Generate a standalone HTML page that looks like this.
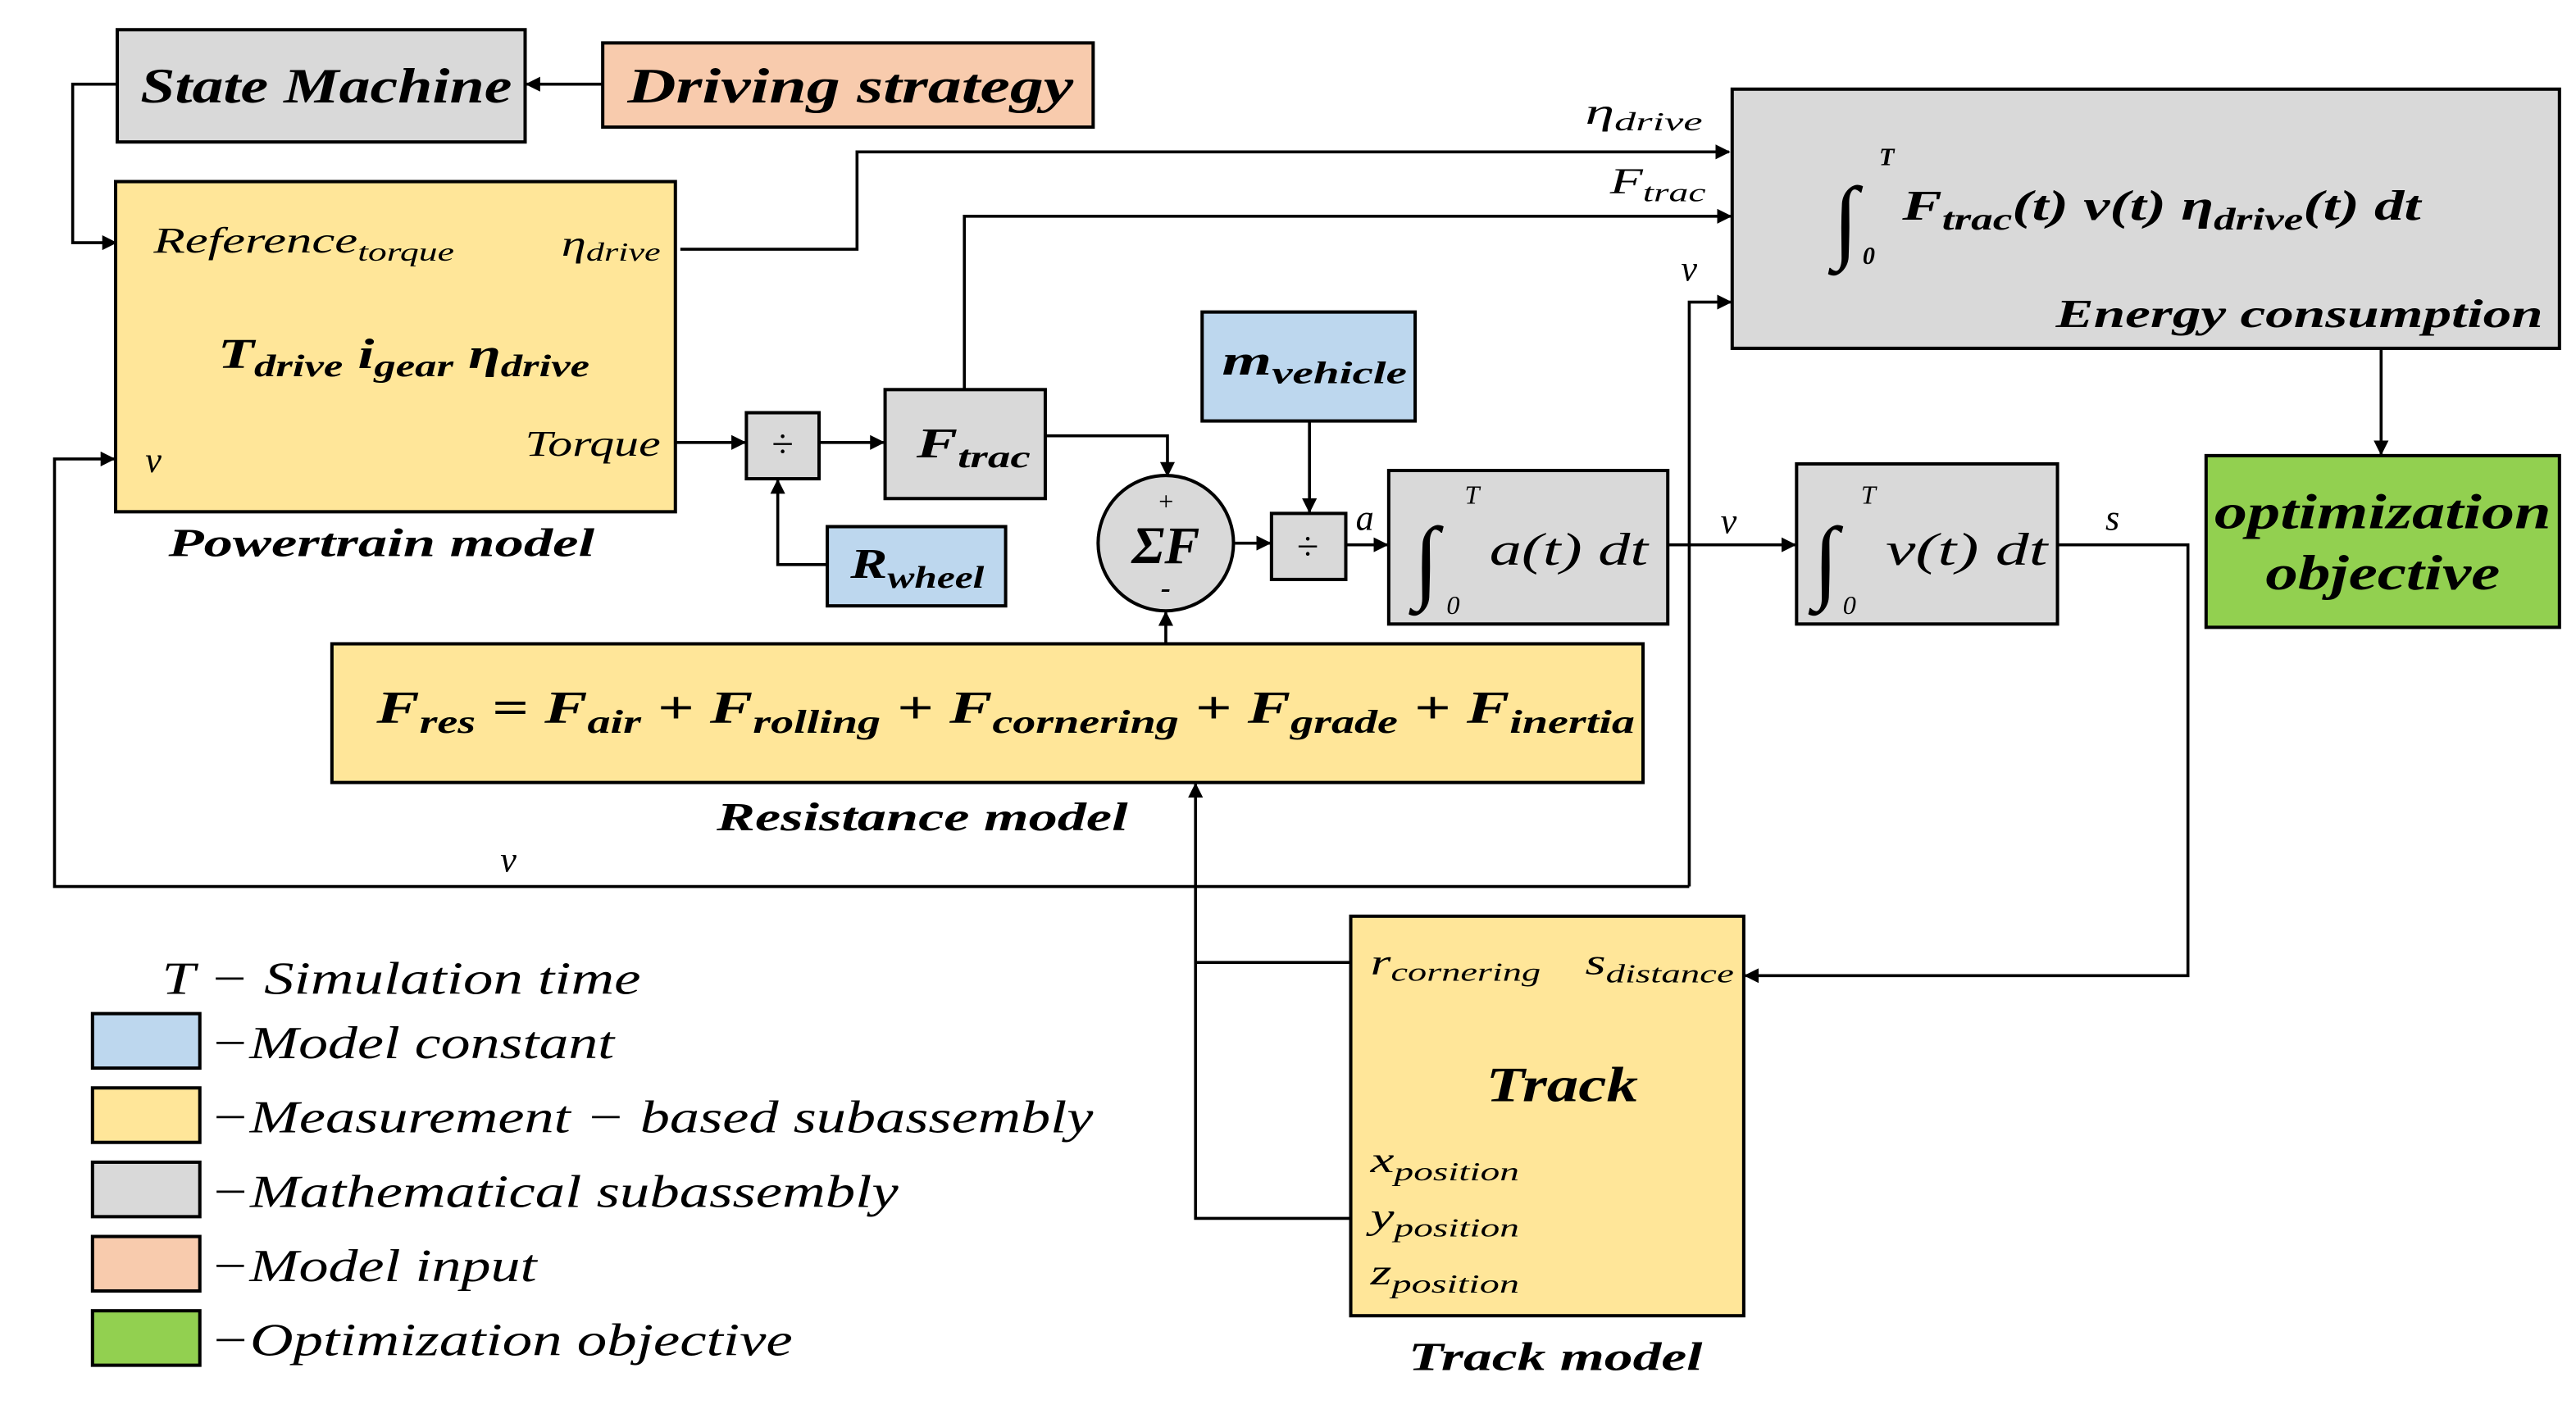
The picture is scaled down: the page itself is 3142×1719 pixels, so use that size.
<!DOCTYPE html>
<html><head><meta charset="utf-8"><style>
html,body{margin:0;padding:0;background:#fff}
svg{display:block}
text{font-family:"Liberation Serif",serif;font-style:italic;fill:#000}
.b{font-weight:bold}
</style></head><body>
<svg width="3142" height="1719" viewBox="0 0 1560 853.5" xmlns="http://www.w3.org/2000/svg">
<defs><marker id="a" viewBox="0 0 10 10" refX="9" refY="5" markerWidth="5" markerHeight="5" orient="auto"><path d="M0,0 L10,5 L0,10 z" fill="#000"/></marker></defs>
<g stroke="#000" stroke-width="2">
<rect x="71" y="18" width="247" height="68" fill="#d9d9d9"/>
<rect x="365" y="26" width="297" height="51" fill="#f8cbad"/>
<rect x="70" y="110" width="339" height="200" fill="#ffe699"/>
<rect x="452" y="250" width="44" height="40" fill="#d9d9d9"/>
<rect x="536" y="236" width="97" height="66" fill="#d9d9d9"/>
<rect x="501" y="319" width="108" height="48" fill="#bdd7ee"/>
<ellipse cx="706" cy="329" rx="41" ry="41" fill="#d9d9d9"/>
<rect x="770" y="311" width="45" height="40" fill="#d9d9d9"/>
<rect x="728" y="189" width="129" height="66" fill="#bdd7ee"/>
<rect x="841" y="285" width="169" height="93" fill="#d9d9d9"/>
<rect x="1088" y="281" width="158" height="97" fill="#d9d9d9"/>
<rect x="1049" y="54" width="501" height="157" fill="#d9d9d9"/>
<rect x="1336" y="276" width="214" height="104" fill="#92d050"/>
<rect x="201" y="390" width="794" height="84" fill="#ffe699"/>
<rect x="818" y="555" width="238" height="242" fill="#ffe699"/>
<rect x="56" y="614" width="65" height="33" fill="#bdd7ee"/>
<rect x="56" y="659" width="65" height="33" fill="#ffe699"/>
<rect x="56" y="704" width="65" height="33" fill="#d9d9d9"/>
<rect x="56" y="749" width="65" height="33" fill="#f8cbad"/>
<rect x="56" y="794" width="65" height="33" fill="#92d050"/>
</g>
<g stroke="#000" stroke-width="1.8" fill="none" marker-end="url(#a)">
<path d="M365,51 H319"/>
<path d="M71,51 H44 V147 H70"/>
<path d="M412,151 H519 V92 H1047"/>
<path d="M584,236 V131 H1048"/>
<path d="M1023,537 V183 H1048"/>
<path d="M1023,537 H33 V278 H69"/>
<path d="M409,268 H451"/>
<path d="M496,268 H535"/>
<path d="M501,342 H471 V291"/>
<path d="M633,264 H707 V288"/>
<path d="M748,329 H769"/>
<path d="M793,255 V310"/>
<path d="M815,330 H840"/>
<path d="M1010,330 H1087"/>
<path d="M1246,330 H1325 V591 H1057"/>
<path d="M1442,211 V275"/>
<path d="M706,390 V371"/>
<path d="M818,738 H724 V475"/>
</g>
<path d="M818,583 H724" stroke="#000" stroke-width="1.8"/>
<g font-size="30" class="b">
<text x="85" y="62" textLength="225" lengthAdjust="spacingAndGlyphs" class="b">State Machine</text>
<text x="380" y="62" textLength="270" lengthAdjust="spacingAndGlyphs" class="b">Driving strategy</text>
</g>
<g font-size="22">
<text x="93" y="153" textLength="182" lengthAdjust="spacingAndGlyphs">Reference<tspan font-size="16" dy="5">torque</tspan></text>
<text x="340" y="155" textLength="60" lengthAdjust="spacingAndGlyphs">η<tspan font-size="16" dy="3">drive</tspan></text>
<text x="318" y="276" textLength="82" lengthAdjust="spacingAndGlyphs">Torque</text>
<text x="88" y="286">v</text>
<text x="960" y="75" textLength="71" lengthAdjust="spacingAndGlyphs">η<tspan font-size="16" dy="4">drive</tspan></text>
<text x="975" y="117" textLength="58" lengthAdjust="spacingAndGlyphs">F<tspan font-size="16" dy="5">trac</tspan></text>
<text x="1018" y="170">v</text>
<text x="303" y="528">v</text>
<text x="821" y="321">a</text>
<text x="1042" y="323">v</text>
<text x="1275" y="321">s</text>
<text x="830" y="590" textLength="103" lengthAdjust="spacingAndGlyphs">r<tspan font-size="16" dy="4">cornering</tspan></text>
<text x="960" y="590" textLength="90" lengthAdjust="spacingAndGlyphs">s<tspan font-size="16" dy="5">distance</tspan></text>
<text x="830" y="710" textLength="90" lengthAdjust="spacingAndGlyphs">x<tspan font-size="16" dy="5">position</tspan></text>
<text x="830" y="744" textLength="90" lengthAdjust="spacingAndGlyphs">y<tspan font-size="16" dy="5">position</tspan></text>
<text x="830" y="778" textLength="90" lengthAdjust="spacingAndGlyphs">z<tspan font-size="16" dy="5">position</tspan></text>
</g>
<g font-size="26" class="b">
<text x="132" y="223" textLength="225" lengthAdjust="spacingAndGlyphs" class="b">T<tspan font-size="19" dy="5">drive</tspan><tspan dy="-5"> i</tspan><tspan font-size="19" dy="5">gear</tspan><tspan dy="-5"> η</tspan><tspan font-size="19" dy="5">drive</tspan></text>
<text x="555" y="277" textLength="69" lengthAdjust="spacingAndGlyphs" class="b">F<tspan font-size="19" dy="6">trac</tspan></text>
<text x="515" y="350" textLength="81" lengthAdjust="spacingAndGlyphs" class="b">R<tspan font-size="19" dy="6">wheel</tspan></text>
<text x="740" y="227" textLength="112" lengthAdjust="spacingAndGlyphs" class="b">m<tspan font-size="19" dy="5">vehicle</tspan></text>
<text x="228" y="438" textLength="762" lengthAdjust="spacingAndGlyphs" font-size="28" class="b">F<tspan font-size="20" dy="6">res</tspan><tspan dy="-6"> = F</tspan><tspan font-size="20" dy="6">air</tspan><tspan dy="-6"> + F</tspan><tspan font-size="20" dy="6">rolling</tspan><tspan dy="-6">  + F</tspan><tspan font-size="20" dy="6">cornering</tspan><tspan dy="-6"> + F</tspan><tspan font-size="20" dy="6">grade</tspan><tspan dy="-6"> + F</tspan><tspan font-size="20" dy="6">inertia</tspan></text>
<text x="1152" y="133" textLength="314" lengthAdjust="spacingAndGlyphs" class="b">F<tspan font-size="19" dy="6">trac</tspan><tspan dy="-6">(t) v(t) η</tspan><tspan font-size="19" dy="6">drive</tspan><tspan dy="-6">(t) dt</tspan></text>
</g>
<text x="1110" y="152" font-size="56">∫</text>
<text x="1138" y="100" font-size="15" class="b">T</text>
<text x="1128" y="160" font-size="15" class="b">0</text>
<text x="856" y="358" font-size="56">∫</text>
<text x="887" y="305" font-size="16">T</text>
<text x="876" y="372" font-size="16">0</text>
<text x="902" y="342" font-size="28" textLength="96" lengthAdjust="spacingAndGlyphs">a(t) dt</text>
<text x="1098" y="358" font-size="56">∫</text>
<text x="1127" y="305" font-size="16">T</text>
<text x="1116" y="372" font-size="16">0</text>
<text x="1142" y="342" font-size="28" textLength="98" lengthAdjust="spacingAndGlyphs">v(t) dt</text>
<text x="706" y="309" font-size="16" text-anchor="middle">+</text>
<text x="706" y="362" font-size="18" text-anchor="middle" class="b">-</text>
<text x="706" y="341" font-size="32" text-anchor="middle" class="b">ΣF</text>
<text x="474" y="277" font-size="24" text-anchor="middle" style="font-style:normal">÷</text>
<text x="792" y="339" font-size="24" text-anchor="middle" style="font-style:normal">÷</text>
<g font-size="24" class="b">
<text x="102" y="337" textLength="258" lengthAdjust="spacingAndGlyphs" class="b">Powertrain model</text>
<text x="434" y="503" textLength="249" lengthAdjust="spacingAndGlyphs" class="b">Resistance model</text>
<text x="853" y="830" textLength="178" lengthAdjust="spacingAndGlyphs" class="b">Track model</text>
<text x="1245" y="198" textLength="295" lengthAdjust="spacingAndGlyphs" class="b">Energy consumption</text>
<text x="900" y="667" font-size="30" textLength="92" lengthAdjust="spacingAndGlyphs" class="b">Track</text>
<text x="1341" y="320" font-size="30" textLength="204" lengthAdjust="spacingAndGlyphs" class="b">optimization</text>
<text x="1372" y="357" font-size="30" textLength="142" lengthAdjust="spacingAndGlyphs" class="b">objective</text>
</g>
<g font-size="28">
<text x="98" y="602" textLength="290" lengthAdjust="spacingAndGlyphs">T − Simulation time</text>
<text x="127" y="641" textLength="245" lengthAdjust="spacingAndGlyphs">−Model constant</text>
<text x="127" y="686" textLength="535" lengthAdjust="spacingAndGlyphs">−Measurement − based subassembly</text>
<text x="127" y="731" textLength="417" lengthAdjust="spacingAndGlyphs">−Mathematical subassembly</text>
<text x="127" y="776" textLength="198" lengthAdjust="spacingAndGlyphs">−Model input</text>
<text x="127" y="821" textLength="353" lengthAdjust="spacingAndGlyphs">−Optimization objective</text>
</g>
</svg>
</body></html>
